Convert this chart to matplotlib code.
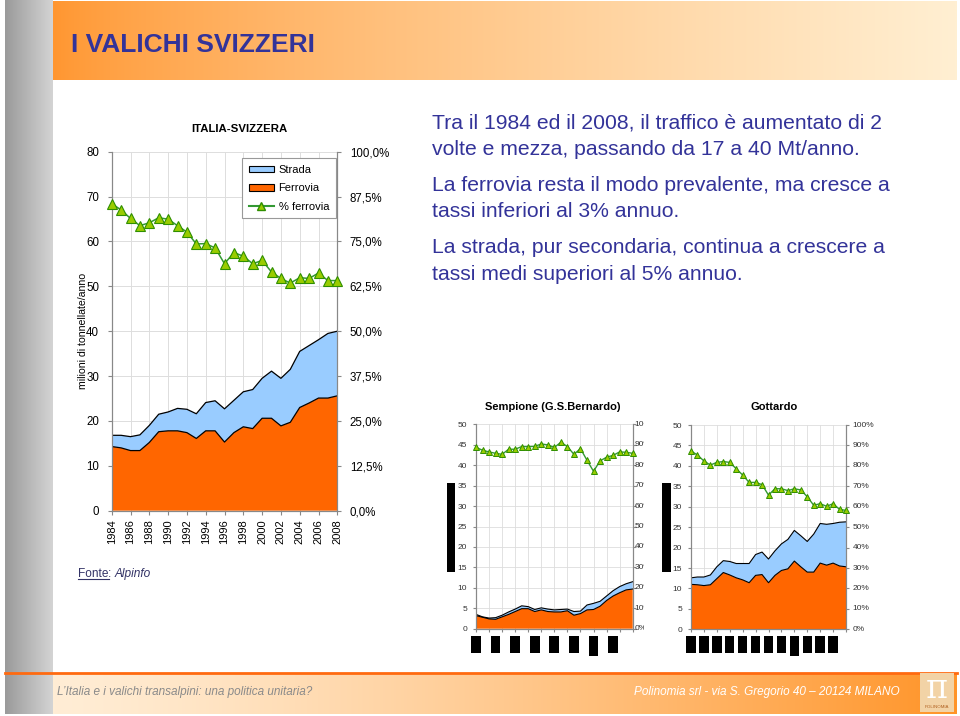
import numpy as np
import matplotlib
matplotlib.use('Agg')
import matplotlib.pyplot as plt
from matplotlib.patches import Rectangle, Patch
from matplotlib.lines import Line2D
import matplotlib.transforms as mtransforms
from matplotlib.ticker import FixedLocator, FuncFormatter
import matplotlib.colors as mcolors

plt.rcParams['font.family'] = ['Liberation Sans', 'DejaVu Sans']

# ---------------- data ----------------
years = list(range(1984, 2009))

# ITALIA-SVIZZERA (milioni di tonnellate/anno)
ch_ferrovia = [14.3, 14.0, 13.4, 13.4, 15.2, 17.6, 17.8, 17.8, 17.4, 16.1, 17.8, 17.8, 15.3,
               17.4, 18.7, 18.3, 20.6, 20.6, 18.9, 19.7, 23.0, 24.0, 25.1, 25.1, 25.6]
ch_strada = [2.5, 2.8, 3.1, 3.5, 3.8, 3.9, 4.2, 5.0, 5.2, 5.5, 6.3, 6.7, 7.4,
             7.2, 7.8, 8.7, 8.9, 10.5, 10.6, 11.8, 12.5, 12.8, 13.0, 14.4, 14.4]
ch_pct_ferrovia = [85.5, 83.8, 81.4, 79.4, 80.2, 81.6, 81.2, 79.4, 77.6, 74.3, 74.4, 73.2, 68.8,
                   71.9, 70.9, 68.8, 69.7, 66.5, 64.7, 63.4, 64.9, 64.7, 66.2, 64.1, 64.1]

# Sempione (G.S.Bernardo)
se_ferrovia = [3.2, 2.8, 2.4, 2.3, 2.9, 3.5, 4.2, 4.9, 4.9, 4.2, 4.6, 4.2, 4.1,
               4.1, 4.4, 3.3, 3.7, 4.6, 4.7, 5.5, 6.9, 8.0, 8.8, 9.5, 9.7]
se_strada = [0.3, 0.1, 0.2, 0.4, 0.4, 0.6, 0.6, 0.7, 0.5, 0.5, 0.5, 0.6, 0.5,
             0.6, 0.4, 0.9, 0.6, 1.2, 1.5, 1.2, 1.1, 1.3, 1.5, 1.5, 1.8]
se_pct_ferrovia = [88.7, 87.3, 86.5, 85.8, 85.3, 87.8, 87.8, 89.1, 89.1, 89.2, 90.4, 89.9, 88.7,
                   91.2, 89.1, 85.3, 88.1, 82.4, 77.0, 82.1, 83.9, 84.8, 86.5, 86.3, 85.8]

# Gottardo
go_ferrovia = [11.0, 10.9, 10.7, 10.9, 12.4, 13.9, 13.3, 12.6, 12.1, 11.4, 13.2, 13.4, 11.4,
               13.2, 14.4, 14.8, 16.7, 15.3, 14.0, 14.0, 16.2, 15.7, 16.2, 15.5, 15.3]
go_strada = [1.6, 1.9, 2.1, 2.4, 2.9, 2.9, 3.3, 3.5, 4.0, 4.7, 5.1, 5.5, 5.8,
             6.0, 6.5, 7.2, 7.5, 7.6, 7.5, 9.3, 9.7, 10.0, 9.7, 10.7, 11.0]
go_pct_ferrovia = [87.3, 85.3, 82.4, 80.4, 81.7, 82.1, 81.7, 78.6, 75.5, 71.9, 71.9, 70.8, 65.7,
                   68.8, 68.8, 67.9, 68.8, 68.2, 64.9, 60.7, 61.5, 60.2, 61.5, 58.7, 58.2]

main_left_ticks = [0, 10, 20, 30, 40, 50, 60, 70, 80]
main_right_ticks = [0, 12.5, 25, 37.5, 50, 62.5, 75, 87.5, 100]
main_year_ticks = list(range(1984, 2009, 2))
small_left_ticks = list(range(0, 51, 5))
small_right_ticks = list(range(0, 101, 10))
se_box_years = list(range(1984, 2006, 3))
go_box_years = list(range(1984, 2007, 2))

text_lines = [
    "Tra il 1984 ed il 2008, il traffico è aumentato di 2",
    "volte e mezza, passando da 17 a 40 Mt/anno.",
    "La ferrovia resta il modo prevalente, ma cresce a",
    "tassi inferiori al 3% annuo.",
    "La strada, pur secondaria, continua a crescere a",
    "tassi medi superiori al 5% annuo.",
]

# ---------------- style ----------------
C_STRADA = '#99CCFF'
C_FERR = '#FF6600'
C_LINE = '#339933'
C_MFC = '#99CC00'
C_MEC = '#2F8F00'
C_TEXT = '#333399'
C_GRID = '#DDDDDD'
C_SPINE = '#888888'

W, H = 960, 716
fig = plt.figure(figsize=(W / 100, H / 100), dpi=100)

bg = fig.add_axes([0, 0, 1, 1], zorder=-10)
bg.axis('off')


def hgrad(x0, x1, y0, y1, c0, c1, gamma=1.0):
    t = np.linspace(0, 1, 256) ** gamma
    a = np.array(mcolors.to_rgb(c0))
    b = np.array(mcolors.to_rgb(c1))
    img = (a[None, :] * (1 - t[:, None]) + b[None, :] * t[:, None])[None, :, :]
    bg.imshow(img, extent=(x0, x1, y1, y0), aspect='auto', interpolation='bilinear', zorder=0)


hgrad(5, 53, 0, 714, '#9a9a9a', '#d4d4d4')
hgrad(53, 957, 1, 80, '#FF9630', '#FFEFD2', gamma=0.75)
hgrad(53, 957, 673, 714, '#FFEDD5', '#FF9428', gamma=1.3)
bg.plot([5, 957], [672.5, 672.5], color='#FF6A10', lw=2, zorder=1)
bg.set_xlim(0, W)
bg.set_ylim(H, 0)

bg.text(71, 45, 'I VALICHI SVIZZERI', fontsize=19, fontweight='bold', color=C_TEXT,
        va='center', ha='left')

baselines = [128.3, 155, 190.7, 217.3, 253.3, 280]
for s, yb in zip(text_lines, baselines):
    bg.text(432, yb, s, fontsize=15.2, color=C_TEXT, va='baseline', ha='left')

# footer
bg.text(57, 692, "L\u2019Italia e i valichi transalpini: una politica unitaria?", fontsize=8.5,
        style='italic', color='#8a8a8a', va='center', ha='left')
bg.text(900, 692, "Polinomia srl - via S. Gregorio 40 \u2013 20124 MILANO", fontsize=8.5,
        style='italic', color='white', va='center', ha='right')
bg.add_patch(Rectangle((920, 673), 34, 39, facecolor='#F2D3A6', edgecolor='none', zorder=2))
bg.text(937, 689, '\u03c0', fontsize=24, color='white', family='DejaVu Serif',
        ha='center', va='center', zorder=3)
bg.text(937, 707, 'POLINOMIA', fontsize=3.2, color='#B06020', ha='center', va='center', zorder=3)


def px_axes(l, t, r, b, z=1):
    return fig.add_axes([l / W, 1 - b / H, (r - l) / W, (b - t) / H], zorder=z)


def style_axes(ax, ax2):
    for a in (ax, ax2):
        a.spines['top'].set_visible(False)
        for s in ('left', 'right', 'bottom'):
            a.spines[s].set_color(C_SPINE)
            a.spines[s].set_linewidth(0.8)
    ax.set_axisbelow(True)


# ---------------- main chart ----------------
ax = px_axes(111.7, 151.7, 337.3, 510.7)
ax.stackplot(years, ch_ferrovia, ch_strada, colors=[C_FERR, C_STRADA], linewidth=0)
tot = np.array(ch_ferrovia) + np.array(ch_strada)
ax.plot(years, ch_ferrovia, color='black', lw=0.9)
ax.plot(years, tot, color='black', lw=0.9)
ax.set_xlim(1984, 2008)
ax.set_ylim(0, 80)
ax.yaxis.set_major_locator(FixedLocator(main_left_ticks))
ax.xaxis.set_major_locator(FixedLocator(main_year_ticks))
ax.set_xticklabels([str(y) for y in main_year_ticks], rotation=90, fontsize=8)
ax.tick_params(axis='y', labelsize=8.3, length=3, color=C_SPINE, pad=6)
ax.tick_params(axis='x', length=3, color=C_SPINE, pad=3)
ax.grid(True, color=C_GRID, lw=0.7)
ax.set_ylabel('milioni di tonnellate/anno', fontsize=7.6)
ax.yaxis.set_label_coords(-0.105, 0.5)

ax2 = ax.twinx()
ax2.plot(years, ch_pct_ferrovia, color=C_LINE, lw=1.1, marker='^', ms=6.5,
         mfc=C_MFC, mec=C_MEC, mew=0.8, clip_on=False, zorder=5)
ax2.set_ylim(0, 100)
ax2.yaxis.set_major_locator(FixedLocator(main_right_ticks))
ax2.yaxis.set_major_formatter(FuncFormatter(lambda v, p: f"{v:.1f}".replace('.', ',') + '%'))
ax2.tick_params(axis='y', labelsize=8.3, length=3, color=C_SPINE, pad=6)
style_axes(ax, ax2)

handles = [Patch(facecolor=C_STRADA, edgecolor='black', lw=0.8, label='Strada'),
           Patch(facecolor=C_FERR, edgecolor='black', lw=0.8, label='Ferrovia'),
           Line2D([], [], color=C_LINE, marker='^', ms=6, mfc=C_MFC, mec=C_MEC, label='% ferrovia')]
leg = ax2.legend(handles=handles, loc='upper right', bbox_to_anchor=(0.998, 0.985), fontsize=8,
                 frameon=True, fancybox=False, edgecolor='#999999', framealpha=1,
                 handlelength=2.3, handleheight=0.55, labelspacing=0.75, borderpad=0.6,
                 handletextpad=0.4, borderaxespad=0.1)
leg.get_frame().set_linewidth(0.8)

bg.text(239, 129, 'ITALIA-SVIZZERA', fontsize=8.2, fontweight='bold', ha='center', va='center')

# Fonte
t1 = bg.text(78, 577, 'Fonte', fontsize=8.6, color='#333366', va='baseline', ha='left')
fig.canvas.draw()
r = fig.canvas.get_renderer()
bb = t1.get_window_extent(r).transformed(bg.transData.inverted())
x_end = max(bb.x0, bb.x1)
bg.plot([78, x_end], [578.5, 578.5], color='#333366', lw=0.8)
t2 = bg.text(x_end, 577, ': ', fontsize=8.6, color='#333366', va='baseline', ha='left')
bb2 = t2.get_window_extent(r).transformed(bg.transData.inverted())
bg.text(max(bb2.x0, bb2.x1), 577, 'Alpinfo', fontsize=8.6, color='#333366', style='italic',
        va='baseline', ha='left')


# ---------------- small charts ----------------
def small_chart(rect, title, title_x, fer, strada, pct, box_years, box_w, tall_year,
                right_pad_px=6.0, right_clip=None):
    a = px_axes(*rect)
    a.stackplot(years, fer, strada, colors=[C_FERR, C_STRADA], linewidth=0)
    tt = np.array(fer) + np.array(strada)
    a.plot(years, fer, color='black', lw=0.8)
    a.plot(years, tt, color='black', lw=0.8)
    a.set_xlim(1984, 2008)
    a.set_ylim(0, 50)
    a.yaxis.set_major_locator(FixedLocator(small_left_ticks))
    a.xaxis.set_major_locator(FixedLocator(main_year_ticks))
    a.set_xticklabels([])
    a.tick_params(axis='y', labelsize=6, length=2.5, color=C_SPINE, pad=4, labelcolor='#333333')
    a.tick_params(axis='x', length=2.5, color=C_SPINE)
    a.grid(True, color=C_GRID, lw=0.6)
    b = a.twinx()
    b.plot(years, pct, color=C_LINE, lw=1.0, marker='^', ms=5, mfc=C_MFC, mec=C_MEC,
           mew=0.7, clip_on=False, zorder=5)
    b.set_ylim(0, 100)
    b.yaxis.set_major_locator(FixedLocator(small_right_ticks))
    b.tick_params(axis='y', length=2.5, color=C_SPINE, labelright=False)
    tr = mtransforms.blended_transform_factory(b.transAxes, b.transData)
    off = mtransforms.ScaledTranslation(right_pad_px / 100, 0, fig.dpi_scale_trans)
    for v in small_right_ticks:
        t = b.text(1.0, v, f"{v}%", transform=tr + off,
                   fontsize=6, color='#333333', ha='left', va='center')
        if right_clip is not None:
            t.set_clip_box(mtransforms.TransformedBbox(
                mtransforms.Bbox.from_extents(0, 0, right_clip / W, 1), fig.transFigure))
            t.set_clip_on(True)
    style_axes(a, b)
    bg.text(title_x, 407, title, fontsize=8, fontweight='bold', ha='center', va='center')
    # garbled year labels rendered as solid blocks
    btr = mtransforms.blended_transform_factory(a.transData, bg.transData)
    for yv in box_years:
        hgt = 19.5 if yv == tall_year else 17.3
        bg.add_patch(Rectangle((yv - box_w / 2, 636), box_w, hgt, transform=btr,
                               facecolor='black', edgecolor='none', clip_on=False))
    return a


small_chart((476, 424.3, 632.7, 628.7), 'Sempione (G.S.Bernardo)', 553,
            se_ferrovia, se_strada, se_pct_ferrovia, se_box_years, 1.5, 2002,
            right_pad_px=2.0, right_clip=644.0)
small_chart((691, 425, 846, 629.3), 'Gottardo', 774,
            go_ferrovia, go_strada, go_pct_ferrovia, go_box_years, 1.45, 2000,
            right_pad_px=6.5)

# garbled rotated axis titles rendered as solid blocks
bg.add_patch(Rectangle((446.7, 483.3), 8.6, 88.4, facecolor='black', edgecolor='none'))
bg.add_patch(Rectangle((661.7, 483.3), 8.8, 88.4, facecolor='black', edgecolor='none'))

fig.savefig('out.png', dpi=100)
